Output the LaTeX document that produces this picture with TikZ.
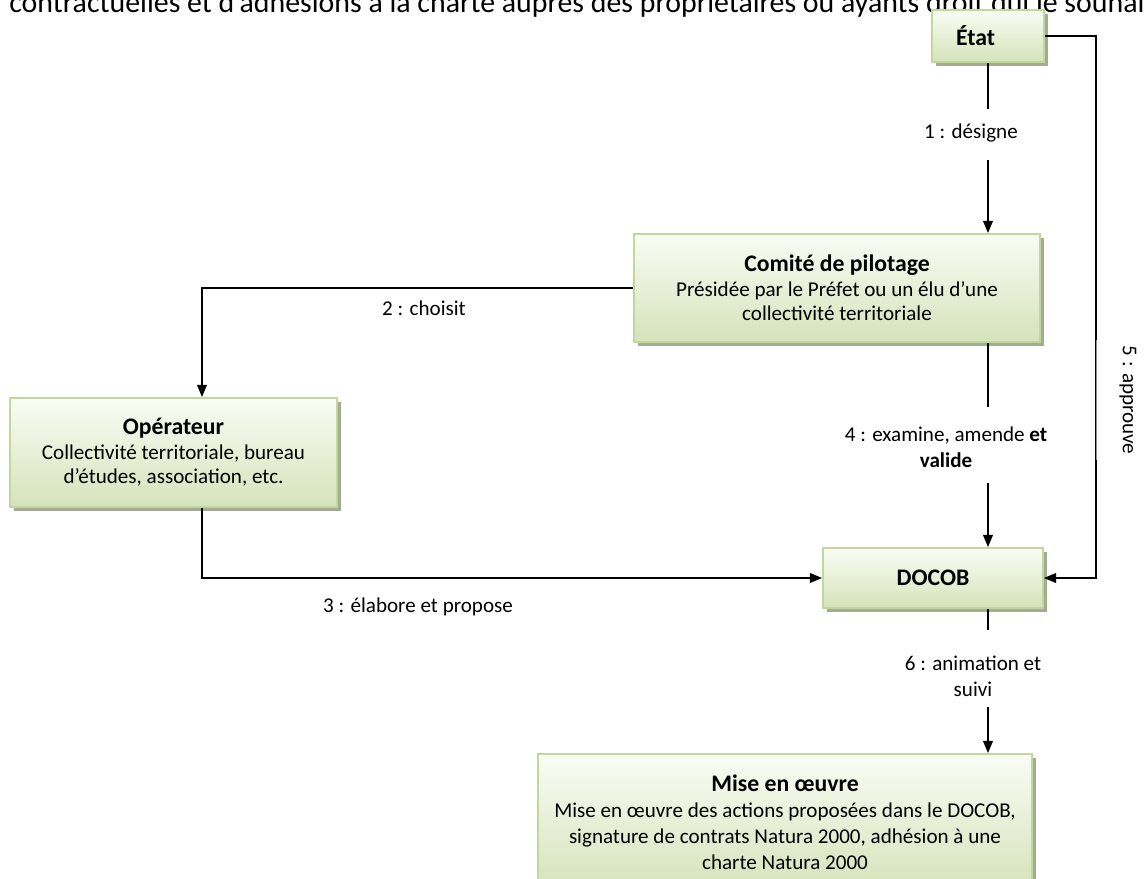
\documentclass[tikz,border=0pt]{standalone}
\usepackage{fontspec}
\setmainfont{Carlito}
\usepackage{xcolor}
\usepackage{tikz}
\usetikzlibrary{arrows.meta, positioning, shadows}

\definecolor{boxline}{HTML}{C3D69B}
\definecolor{boxtop}{HTML}{FAFCF5}
\definecolor{boxbot}{HTML}{D5E3BA}
\definecolor{boxshade}{HTML}{A3AB92}

\newcommand{\titre}[1]{{\fontsize{13.5}{15}\selectfont\bfseries #1}}

\tikzset{
  etape/.style={draw=boxline, line width=1pt, top color=boxtop, bottom color=boxbot,
    align=center, font=\fontsize{12}{14}\selectfont,
    drop shadow={shadow xshift=0.08cm, shadow yshift=-0.08cm, fill=boxshade, opacity=1}},
  fleche/.style={-{Triangle[length=7pt,width=5.5pt]}, line width=1.1pt},
  trait/.style={line width=1.1pt},
  etiq/.style={align=center, font=\fontsize{12}{15}\selectfont}
}

\begin{document}
\begin{tikzpicture}[x=0.02cm, y=-0.02cm]
\useasboundingbox (0,0) rectangle (1144,879);

% texte du document (coupe)
\node[anchor=base west, inner sep=0, font=\fontsize{17}{20}\selectfont] (haut) at (9,12)
  {contractuelles et d'adhésions à la charte auprès des propriétaires ou ayants droit qui le souhaitent};

% Boites
\node[etape, minimum width=2.24cm, minimum height=1.04cm] (etat) at (988,36) {\titre{État}\hspace*{0.5cm}};
\node[etape, minimum width=8.12cm, minimum height=2.16cm] (comite) at (837,288)
  {\titre{Comité de pilotage}\\Présidée par le Préfet ou un élu d’une\\collectivité territoriale};
\node[etape, minimum width=6.54cm, minimum height=2.18cm] (oper) at (173.5,452.5)
  {\titre{Opérateur}\\Collectivité territoriale, bureau\\d’études, association, etc.};
\node[etape, minimum width=4.4cm, minimum height=1.2cm] (docob) at (933,578) {\titre{DOCOB}};
\node[etape, minimum width=9.88cm, minimum height=2.72cm, font=\fontsize{12}{14.8}\selectfont] (mise) at (785,822)
  {\titre{Mise en œuvre}\\Mise en œuvre des actions proposées dans le DOCOB,\\signature de contrats Natura 2000, adhésion à une\\charte Natura 2000};

% Points de passage
\coordinate (k23) at (202,0);
\coordinate (k5) at (1096,36);
\coordinate (g1a) at (988,109);
\coordinate (g1b) at (988,160);
\coordinate (g4a) at (988,407);
\coordinate (g4b) at (988,483);
\coordinate (g6a) at (988,630);
\coordinate (g6b) at (988,707);

% Fleches
\draw[trait] (etat.south) -- (g1a);
\draw[fleche] (g1b) -- (comite.north -| etat.south);
\draw[fleche] (comite.west) -| (oper.north -| k23);
\draw[fleche] (oper.south -| k23) |- (docob.west);
\draw[trait] (comite.south -| etat.south) -- (g4a);
\draw[fleche] (g4b) -- (docob.north -| etat.south);
\draw[fleche] (etat.east) -- (k5) |- (docob.east);
\draw[trait] (docob.south -| etat.south) -- (g6a);
\draw[fleche] (g6b) -- (mise.north -| etat.south);

% Etiquettes
\node[etiq] (l1) at (971,133) {1 : désigne};
\node[etiq] (l2) at (424,308) {2 : choisit};
\node[etiq] (l3) at (418,607) {3 : élabore et propose};
\node[etiq] (l4) at (946,447) {4 : examine, amende \textbf{et}\\\textbf{valide}};
\node[etiq, rotate=-90, fill=white, fill opacity=0.55, text opacity=1,
  minimum width=2.2cm, minimum height=1.3cm] (l5) at (1128,400) {5 : approuve};
\node[etiq] (l6) at (973,676) {6 : animation et\\suivi};
\end{tikzpicture}
\end{document}
